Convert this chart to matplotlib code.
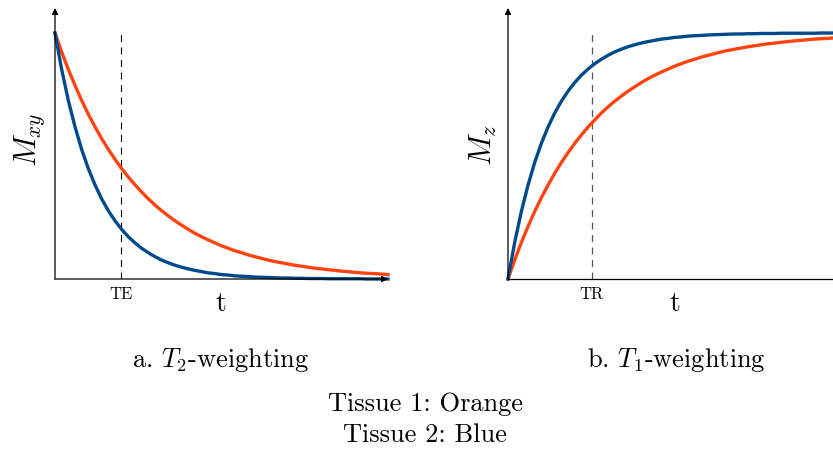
import matplotlib.pyplot as plt

plt.rcParams['font.family'] = ['cmr10']
plt.rcParams['mathtext.fontset'] = 'cm'
plt.rcParams['axes.formatter.use_mathtext'] = True
plt.rcParams['lines.scale_dashes'] = False

# time samples (fraction of the horizontal axis length)
t = [0.00, 0.02, 0.04, 0.06, 0.08, 0.10, 0.12, 0.14, 0.16, 0.18,
     0.20, 0.22, 0.24, 0.26, 0.28, 0.30, 0.32, 0.34, 0.36, 0.38,
     0.40, 0.42, 0.44, 0.46, 0.48, 0.50, 0.52, 0.54, 0.56, 0.58,
     0.60, 0.62, 0.64, 0.66, 0.68, 0.70, 0.72, 0.74, 0.76, 0.78,
     0.80, 0.82, 0.84, 0.86, 0.88, 0.90, 0.92, 0.94, 0.96, 0.98, 1.00]

# transverse magnetisation (T2 decay)
mxy_orange = [1.000, 0.923, 0.852, 0.787, 0.726, 0.670, 0.619, 0.571, 0.527, 0.487,
              0.449, 0.415, 0.383, 0.354, 0.326, 0.301, 0.278, 0.257, 0.237, 0.219,
              0.202, 0.186, 0.172, 0.159, 0.147, 0.135, 0.125, 0.115, 0.107, 0.098,
              0.091, 0.084, 0.077, 0.071, 0.066, 0.061, 0.056, 0.052, 0.048, 0.044,
              0.041, 0.038, 0.035, 0.032, 0.030, 0.027, 0.025, 0.023, 0.022, 0.020, 0.018]
mxy_blue = [1.000, 0.852, 0.726, 0.619, 0.527, 0.449, 0.383, 0.326, 0.278, 0.237,
            0.202, 0.172, 0.147, 0.125, 0.107, 0.091, 0.077, 0.066, 0.056, 0.048,
            0.041, 0.035, 0.030, 0.025, 0.022, 0.018, 0.016, 0.013, 0.011, 0.010,
            0.008, 0.007, 0.006, 0.005, 0.004, 0.004, 0.003, 0.003, 0.002, 0.002,
            0.002, 0.001, 0.001, 0.001, 0.001, 0.001, 0.001, 0.000, 0.000, 0.000, 0.000]

# longitudinal magnetisation (T1 recovery)
mz_orange = [0.000, 0.077, 0.148, 0.213, 0.274, 0.330, 0.381, 0.429, 0.473, 0.513,
             0.551, 0.585, 0.617, 0.646, 0.674, 0.699, 0.722, 0.743, 0.763, 0.781,
             0.798, 0.814, 0.828, 0.841, 0.853, 0.865, 0.875, 0.885, 0.893, 0.902,
             0.909, 0.916, 0.923, 0.929, 0.934, 0.939, 0.944, 0.948, 0.952, 0.956,
             0.959, 0.962, 0.965, 0.968, 0.970, 0.973, 0.975, 0.977, 0.978, 0.980, 0.982]
mz_blue = [0.000, 0.148, 0.274, 0.381, 0.473, 0.551, 0.617, 0.674, 0.722, 0.763,
           0.798, 0.828, 0.853, 0.875, 0.893, 0.909, 0.923, 0.934, 0.944, 0.952,
           0.959, 0.965, 0.970, 0.975, 0.978, 0.982, 0.984, 0.987, 0.989, 0.990,
           0.992, 0.993, 0.994, 0.995, 0.996, 0.996, 0.997, 0.997, 0.998, 0.998,
           0.998, 0.999, 0.999, 0.999, 0.999, 0.999, 0.999, 1.000, 1.000, 1.000, 1.000]

te = 0.198
tr = 0.252

ORANGE = '#ff4411'
BLUE = '#004a8c'

fig = plt.figure(figsize=(8.33, 4.5), dpi=100)

ax1 = fig.add_axes([55 / 833, 171 / 450, 333 / 833, 271 / 450])
ax2 = fig.add_axes([508 / 833, 171 / 450, 333 / 833, 271 / 450])

for ax in (ax1, ax2):
    ax.set_xlim(0, 1.0)
    ax.set_ylim(0, 1.1016)
    ax.axis('off')
    ax.patch.set_visible(False)

arrow = dict(arrowstyle='-|>', lw=0.9, color='black',
             mutation_scale=9, shrinkA=0, shrinkB=0)

# left panel
ax1.plot(t, mxy_orange, color=ORANGE, lw=2.4, clip_on=False, zorder=3)
ax1.plot(t, mxy_blue, color=BLUE, lw=2.4, clip_on=False, zorder=3)
ax1.plot([te, te], [0, 1.0], color='black', lw=0.8, dashes=(5, 4), zorder=2)
ax1.annotate('', xy=(0, 1.1016), xytext=(0, 0), arrowprops=arrow)
ax1.annotate('', xy=(1.0, 0), xytext=(0, 0), arrowprops=arrow, zorder=4)

# right panel
ax2.plot(t, mz_orange, color=ORANGE, lw=2.4, clip_on=False, zorder=3)
ax2.plot(t, mz_blue, color=BLUE, lw=2.4, clip_on=False, zorder=3)
ax2.plot([tr, tr], [0, 1.0], color='#555555', lw=0.9, dashes=(5, 4), zorder=2)
ax2.annotate('', xy=(0, 1.1016), xytext=(0, 0), arrowprops=arrow)
ax2.plot([0, 1.0], [0, 0], color='black', lw=0.9, clip_on=False, zorder=4)


# labels placed at figure pixel positions
def ftext(x, y, s, size, **kw):
    fig.text(x / 833, 1 - y / 450, s, fontsize=size, ha='center', va='center', **kw)


ftext(121, 294, 'TE', 12)
ftext(592, 294, 'TR', 12)
ftext(221, 304, 't', 20)
ftext(675, 304, 't', 20)
ftext(30, 140, '$M_{xy}$', 22, rotation=90)
ftext(483, 145, '$M_z$', 22, rotation=90)
ftext(221, 360, 'a. $T_2$-weighting', 19)
ftext(676, 360, 'b. $T_1$-weighting', 19)
ftext(425, 404, 'Tissue 1: Orange', 19)
ftext(425, 435, 'Tissue 2: Blue', 19)

fig.savefig('out.png', dpi=100)
